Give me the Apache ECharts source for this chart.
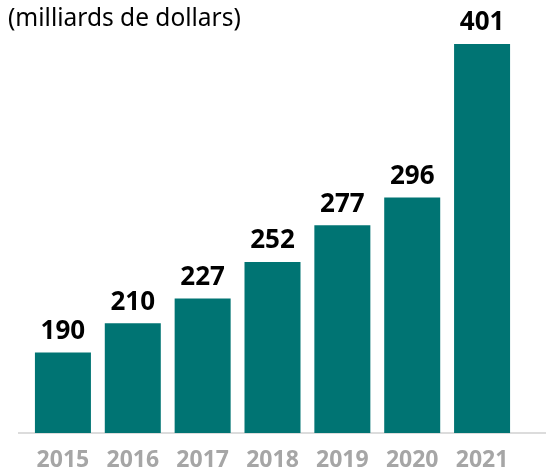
<!DOCTYPE html>
<html>
<head>
<meta charset="utf-8">
<script src="https://cdn.jsdelivr.net/npm/echarts@6/dist/echarts.min.js"></script>
<style>
  html, body { margin: 0; padding: 0; background: #fff; }
  #chart { width: 546px; height: 475px; }
</style>
</head>
<body>
<div id="chart"></div>
<script>
var years = ['2015', '2016', '2017', '2018', '2019', '2020', '2021'];
var values = [190, 210, 227, 252, 277, 296, 401];
var unitLabel = '(milliards de dollars)';

var chart = echarts.init(document.getElementById('chart'));
chart.setOption({
    animation: false,
    title: {
        text: unitLabel,
        left: 3,
        top: 2,
        textStyle: {
            fontFamily: 'Noto Sans',
            fontWeight: 'normal',
            fontSize: 24.5,
            color: '#000'
        }
    },
    grid: { left: 28, right: 29, top: 44, bottom: 42 },
    xAxis: {
        type: 'category',
        data: years,
        axisLine: { show: false },
        axisTick: { show: false },
        axisLabel: {
            interval: 0,
            margin: 16,
            fontFamily: 'Noto Sans',
            fontWeight: 'bold',
            fontSize: 23,
            color: '#a6a6a6'
        }
    },
    yAxis: {
        type: 'value',
        min: 135,
        max: 401,
        show: false,
        splitLine: { show: false }
    },
    // ligne de base qui dépasse la zone des barres
    graphic: [{
        type: 'line',
        shape: { x1: 18, y1: 433, x2: 546, y2: 433 },
        style: { stroke: '#d0d0d0', lineWidth: 1.5 }
    }],
    series: [{
        type: 'bar',
        data: values,
        barWidth: 56,
        itemStyle: { color: '#007473' },
        label: {
            show: true,
            position: 'top',
            distance: 8,
            fontFamily: 'Noto Sans',
            fontWeight: 'bold',
            fontSize: 26,
            color: '#000'
        }
    }]
});
</script>
</body>
</html>
